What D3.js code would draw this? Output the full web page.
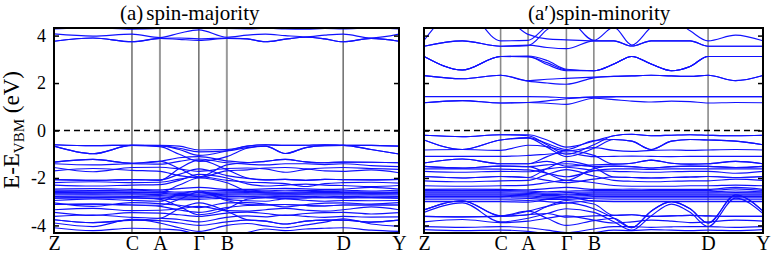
<!DOCTYPE html>
<html>
<head>
<meta charset="utf-8">
<script src="https://cdn.jsdelivr.net/npm/d3@7"></script>
<style>
  body { margin: 0; background: #fff; }
  svg { display: block; }
  svg text { font-family: "Liberation Serif", "DejaVu Serif", "Times New Roman", Times, serif; }
</style>
</head>
<body>
<svg id="chart" width="774" height="255"></svg>
<script>
// k-path sample positions (fraction of path length) and high-symmetry points
const kPath = [0, 0.113, 0.226, 0.307, 0.363, 0.420, 0.501, 0.56, 0.613, 0.67, 0.73, 0.785, 0.838, 0.919, 1];
const symLabels = ["Z", "C", "A", "\u0393", "B", "D", "Y"];
const symPos = [0, 0.226, 0.307, 0.420, 0.501, 0.838, 1];
const yTicks = [-4, -2, 0, 2, 4];

// spin-majority bands (eV), one value per kPath point
const majorityBands = [
  [4.28, 4.33, 4.27, 4.30, 4.35, 4.40, 4.30, 4.28, 4.31, 4.28, 4.27, 4.30, 4.28, 4.32, 4.28],
  [4.07, 3.98, 4.06, 3.92, 4.10, 4.24, 3.93, 4.02, 4.06, 4.00, 3.95, 4.02, 4.06, 3.90, 4.06],
  [3.76, 3.90, 3.74, 3.88, 3.84, 3.80, 3.88, 3.86, 3.74, 3.85, 3.93, 3.86, 3.74, 3.88, 3.76],
  [3.76, 3.90, 3.74, 3.88, 3.90, 3.86, 3.90, 3.86, 3.74, 3.85, 3.93, 3.86, 3.74, 3.88, 3.76],
  [-0.60, -0.64, -0.62, -0.62, -0.66, -0.82, -0.80, -0.66, -0.60, -0.63, -0.62, -0.60, -0.62, -0.63, -0.66],
  [-0.66, -0.98, -0.63, -0.65, -0.75, -0.90, -0.86, -0.72, -0.66, -0.97, -0.72, -0.64, -0.63, -0.80, -0.99],
  [-0.60, -0.64, -0.62, -0.64, -0.80, -1.05, -0.86, -0.66, -0.60, -0.63, -0.62, -0.60, -0.62, -0.63, -0.66],
  [-0.66, -0.98, -0.63, -0.68, -1.00, -1.30, -1.10, -0.75, -0.66, -0.97, -0.72, -0.64, -0.63, -0.80, -0.99],
  [-1.33, -1.22, -1.38, -1.30, -1.15, -1.10, -1.28, -1.35, -1.30, -1.22, -1.32, -1.36, -1.33, -1.34, -1.36],
  [-1.33, -1.22, -1.38, -1.30, -1.60, -1.95, -1.45, -1.36, -1.30, -1.22, -1.32, -1.36, -1.33, -1.34, -1.36],
  [-1.40, -1.45, -1.40, -1.42, -1.30, -1.20, -1.36, -1.42, -1.45, -1.40, -1.40, -1.44, -1.40, -1.48, -1.52],
  [-1.56, -1.74, -1.56, -1.55, -1.62, -1.72, -1.60, -1.58, -1.62, -1.76, -1.64, -1.58, -1.56, -1.60, -1.64],
  [-1.70, -1.60, -1.68, -1.72, -1.90, -1.98, -1.70, -1.66, -1.58, -1.56, -1.62, -1.70, -1.72, -1.66, -1.78],
  [-2.07, -2.10, -2.07, -2.08, -1.85, -1.62, -1.90, -2.02, -2.08, -2.06, -2.10, -2.06, -2.07, -2.08, -2.06],
  [-2.07, -2.10, -2.07, -2.10, -1.60, -1.25, -1.65, -2.00, -2.08, -2.06, -2.10, -2.06, -2.07, -2.08, -2.06],
  [-2.20, -2.16, -2.20, -2.18, -2.05, -1.95, -2.10, -2.18, -2.20, -2.24, -2.36, -2.24, -2.20, -2.18, -2.22],
  [-2.30, -2.34, -2.30, -2.28, -2.10, -1.85, -2.00, -2.25, -2.34, -2.30, -2.26, -2.30, -2.32, -2.36, -2.32],
  [-2.47, -2.45, -2.48, -2.50, -2.45, -2.40, -2.48, -2.48, -2.46, -2.44, -2.46, -2.48, -2.47, -2.40, -2.47],
  [-2.52, -2.53, -2.52, -2.55, -2.60, -2.55, -2.53, -2.52, -2.54, -2.52, -2.53, -2.52, -2.52, -2.55, -2.52],
  [-2.57, -2.58, -2.58, -2.60, -2.65, -2.62, -2.58, -2.57, -2.58, -2.59, -2.58, -2.57, -2.58, -2.60, -2.58],
  [-2.62, -2.63, -2.62, -2.64, -2.70, -2.68, -2.63, -2.62, -2.63, -2.64, -2.63, -2.62, -2.62, -2.64, -2.62],
  [-2.62, -2.63, -2.62, -2.60, -2.30, -2.00, -2.20, -2.55, -2.63, -2.64, -2.63, -2.62, -2.62, -2.64, -2.62],
  [-2.67, -2.68, -2.67, -2.70, -2.74, -2.73, -2.68, -2.67, -2.68, -2.68, -2.68, -2.67, -2.67, -2.68, -2.67],
  [-2.72, -2.72, -2.72, -2.74, -2.80, -2.78, -2.73, -2.72, -2.72, -2.73, -2.72, -2.72, -2.72, -2.72, -2.72],
  [-2.78, -2.77, -2.78, -2.80, -2.85, -2.84, -2.79, -2.78, -2.77, -2.78, -2.78, -2.77, -2.78, -2.77, -2.78],
  [-2.85, -2.83, -2.84, -2.86, -2.92, -2.90, -2.85, -2.84, -2.83, -2.85, -2.84, -2.83, -2.84, -2.83, -2.85],
  [-2.85, -2.83, -2.84, -2.90, -3.20, -3.55, -3.30, -2.90, -2.83, -2.85, -2.84, -2.83, -2.84, -2.83, -2.85],
  [-2.95, -2.88, -2.95, -2.98, -2.70, -2.55, -2.90, -2.96, -2.98, -2.88, -2.94, -2.98, -2.95, -2.96, -2.95],
  [-3.05, -3.20, -3.04, -3.08, -3.15, -3.25, -3.05, -3.04, -3.10, -3.22, -3.12, -3.06, -3.05, -3.10, -3.04],
  [-3.12, -3.10, -3.14, -3.20, -3.35, -3.45, -3.25, -3.16, -3.14, -3.12, -3.16, -3.18, -3.14, -3.14, -3.14],
  [-3.12, -3.10, -3.14, -3.15, -2.90, -2.60, -2.95, -3.12, -3.14, -3.12, -3.16, -3.18, -3.14, -3.14, -3.14],
  [-3.34, -3.28, -3.38, -3.36, -3.30, -3.20, -3.38, -3.40, -3.34, -3.28, -3.36, -3.40, -3.34, -3.22, -3.34],
  [-3.45, -3.58, -3.46, -3.48, -3.55, -3.62, -3.48, -3.44, -3.50, -3.58, -3.50, -3.46, -3.45, -3.52, -3.46],
  [-3.62, -3.56, -3.66, -3.70, -3.75, -3.85, -3.66, -3.60, -3.64, -3.56, -3.62, -3.66, -3.62, -3.65, -3.64],
  [-3.76, -3.88, -3.78, -3.80, -3.90, -4.00, -3.85, -3.78, -3.82, -3.94, -3.82, -3.78, -3.78, -3.86, -3.78],
  [-3.76, -3.88, -3.78, -3.70, -3.30, -3.05, -3.40, -3.76, -3.82, -3.94, -3.82, -3.78, -3.78, -3.86, -3.78],
  [-3.90, -4.05, -3.74, -3.90, -4.10, -4.25, -4.00, -3.92, -4.02, -4.10, -3.98, -3.86, -3.72, -3.94, -4.04],
  [-4.10, -4.22, -4.12, -4.15, -4.20, -4.40, -4.50, -4.30, -4.15, -4.22, -4.15, -4.12, -4.10, -4.20, -4.25]
];

// spin-minority bands (eV)
const minorityBands = [
  [3.80, 5.20, 3.78, 3.80, 4.40, 4.70, 3.80, 4.35, 3.60, 4.35, 4.70, 4.20, 3.78, 4.02, 3.78],
  [3.55, 3.78, 3.55, 3.60, 3.50, 3.45, 3.78, 3.78, 3.56, 3.78, 3.78, 3.78, 3.55, 3.55, 3.55],
  [3.55, 3.78, 3.55, 3.58, 4.25, 4.80, 4.80, 4.80, 4.80, 4.80, 4.80, 4.80, 4.80, 4.80, 4.80],
  [4.80, 4.80, 4.80, 4.05, 3.86, 3.82, 3.78, 3.78, 3.56, 3.78, 3.78, 3.78, 3.55, 3.55, 3.55],
  [3.12, 2.55, 3.12, 3.12, 2.78, 2.52, 2.52, 2.80, 3.12, 2.80, 2.52, 2.70, 3.12, 3.12, 3.12],
  [3.12, 2.55, 3.12, 3.10, 2.86, 2.55, 2.52, 2.80, 3.12, 2.80, 2.52, 2.70, 3.12, 3.12, 3.12],
  [3.12, 2.55, 3.12, 3.14, 2.95, 2.58, 2.52, 2.80, 3.12, 2.80, 2.52, 2.70, 3.12, 3.12, 3.12],
  [2.31, 2.18, 2.33, 2.10, 2.16, 2.20, 2.25, 2.28, 2.30, 2.33, 2.30, 2.28, 2.33, 2.10, 2.32],
  [2.31, 2.18, 2.33, 2.08, 2.00, 1.95, 2.22, 2.28, 2.30, 2.33, 2.30, 2.28, 2.33, 2.10, 2.32],
  [1.43, 1.43, 1.43, 1.43, 1.42, 1.38, 1.40, 1.42, 1.43, 1.43, 1.43, 1.43, 1.43, 1.43, 1.43],
  [1.17, 1.26, 1.16, 1.18, 1.25, 1.34, 1.42, 1.43, 1.43, 1.43, 1.43, 1.43, 1.43, 1.43, 1.43],
  [1.17, 1.26, 1.16, 1.18, 1.15, 1.10, 1.36, 1.30, 1.24, 1.20, 1.24, 1.22, 1.16, 1.18, 1.17],
  [-0.20, -0.26, -0.18, -0.18, -0.40, -0.70, -0.45, -0.22, -0.16, -0.22, -0.20, -0.18, -0.20, -0.22, -0.20],
  [-0.20, -0.26, -0.18, -0.22, -0.60, -1.00, -0.60, -0.22, -0.16, -0.22, -0.20, -0.18, -0.20, -0.22, -0.20],
  [-0.40, -0.80, -0.40, -0.30, -0.55, -0.80, -0.42, -0.38, -0.45, -0.80, -0.45, -0.38, -0.40, -0.45, -0.60],
  [-0.40, -0.80, -0.40, -0.32, -0.70, -1.10, -0.75, -0.38, -0.45, -0.80, -0.45, -0.38, -0.40, -0.45, -0.60],
  [-0.82, -0.80, -0.84, -0.62, -0.68, -0.86, -0.72, -0.84, -0.88, -0.84, -0.82, -0.84, -0.82, -0.80, -0.82],
  [-1.09, -1.09, -1.09, -1.05, -1.00, -0.95, -1.10, -1.09, -1.08, -1.09, -1.10, -1.09, -1.09, -1.09, -1.09],
  [-1.37, -1.20, -1.40, -1.40, -1.30, -1.50, -1.45, -1.42, -1.38, -1.25, -1.38, -1.42, -1.40, -1.30, -1.40],
  [-1.37, -1.20, -1.40, -1.40, -1.10, -0.85, -1.05, -1.42, -1.38, -1.25, -1.38, -1.42, -1.40, -1.30, -1.40],
  [-1.51, -1.58, -1.50, -1.52, -1.45, -1.40, -1.52, -1.50, -1.52, -1.58, -1.52, -1.50, -1.51, -1.56, -1.51],
  [-1.51, -1.58, -1.50, -1.52, -1.80, -2.10, -1.60, -1.50, -1.52, -1.58, -1.52, -1.50, -1.51, -1.56, -1.51],
  [-1.62, -1.62, -1.63, -1.66, -1.80, -1.95, -1.70, -1.62, -1.62, -1.64, -1.62, -1.62, -1.62, -1.62, -1.62],
  [-1.72, -1.76, -1.72, -1.74, -1.62, -1.55, -1.68, -1.72, -1.74, -1.76, -1.74, -1.72, -1.72, -1.80, -1.72],
  [-1.94, -2.00, -1.94, -1.98, -2.10, -2.20, -2.05, -1.96, -1.98, -2.00, -1.98, -1.96, -1.94, -1.98, -1.94],
  [-1.94, -2.00, -1.94, -1.98, -1.60, -1.30, -1.55, -1.96, -1.98, -2.00, -1.98, -1.96, -1.94, -1.98, -1.94],
  [-2.12, -2.16, -2.12, -2.10, -1.85, -1.65, -1.92, -2.10, -2.14, -2.16, -2.14, -2.12, -2.12, -2.05, -2.10],
  [-2.33, -2.35, -2.33, -2.30, -2.20, -2.10, -2.20, -2.32, -2.35, -2.35, -2.35, -2.33, -2.33, -2.30, -2.33],
  [-2.48, -2.47, -2.48, -2.50, -2.45, -2.40, -2.48, -2.48, -2.47, -2.48, -2.48, -2.48, -2.48, -2.40, -2.48],
  [-2.53, -2.53, -2.53, -2.55, -2.58, -2.56, -2.53, -2.53, -2.53, -2.53, -2.53, -2.53, -2.53, -2.46, -2.53],
  [-2.58, -2.58, -2.58, -2.60, -2.64, -2.62, -2.58, -2.58, -2.58, -2.58, -2.58, -2.58, -2.58, -2.55, -2.58],
  [-2.63, -2.63, -2.63, -2.65, -2.70, -2.68, -2.63, -2.63, -2.63, -2.63, -2.63, -2.63, -2.63, -2.62, -2.63],
  [-2.68, -2.68, -2.68, -2.70, -2.74, -2.72, -2.68, -2.68, -2.68, -2.68, -2.68, -2.68, -2.68, -2.68, -2.68],
  [-2.73, -2.73, -2.73, -2.75, -2.80, -2.78, -2.73, -2.73, -2.73, -2.73, -2.73, -2.73, -2.73, -2.73, -2.73],
  [-2.78, -2.78, -2.78, -2.80, -2.85, -2.84, -2.79, -2.78, -2.78, -2.78, -2.78, -2.78, -2.78, -2.78, -2.78],
  [-2.84, -2.84, -2.84, -2.86, -2.90, -2.90, -2.85, -2.84, -2.84, -2.84, -2.84, -2.84, -2.84, -2.84, -2.84],
  [-2.92, -2.92, -2.92, -2.95, -3.00, -3.05, -2.94, -2.92, -2.92, -2.92, -2.92, -2.92, -2.92, -2.92, -2.92],
  [-3.00, -3.00, -3.00, -3.02, -2.90, -2.80, -2.98, -3.00, -3.00, -3.00, -3.00, -3.00, -3.00, -3.00, -3.00],
  [-3.35, -2.96, -3.60, -3.40, -3.20, -3.05, -3.30, -3.70, -4.10, -3.40, -3.00, -3.30, -3.90, -2.72, -3.40],
  [-3.35, -2.96, -3.60, -3.40, -3.70, -4.00, -3.80, -3.70, -4.10, -3.40, -3.00, -3.30, -3.90, -2.72, -3.40],
  [-3.45, -3.05, -3.85, -3.70, -3.50, -3.30, -3.45, -3.85, -4.20, -3.60, -3.10, -3.45, -4.05, -2.85, -3.50],
  [-3.62, -3.64, -3.62, -3.55, -3.50, -3.65, -3.60, -3.58, -3.55, -3.62, -3.60, -3.58, -3.60, -3.62, -3.62],
  [-3.62, -3.64, -3.62, -3.55, -3.20, -2.95, -3.10, -3.58, -3.55, -3.62, -3.60, -3.58, -3.60, -3.62, -3.62],
  [-3.85, -3.75, -3.88, -3.82, -3.70, -3.60, -3.78, -3.90, -3.85, -3.78, -3.82, -3.88, -3.85, -3.78, -3.82],
  [-4.05, -4.08, -4.05, -4.10, -4.20, -4.30, -4.15, -4.05, -4.05, -4.08, -4.06, -4.05, -4.05, -4.08, -4.05],
  [-4.18, -4.22, -4.20, -4.25, -4.35, -4.40, -4.30, -4.20, -4.22, -4.18, -4.20, -4.22, -4.20, -4.22, -4.18]
];

const svg = d3.select("#chart");
const plotTop = 28, plotBottom = 233;

const y = d3.scaleLinear().domain([-4.32, 4.32]).range([plotBottom, plotTop]);

function drawPanel(id, left, right, bands, lineStyle, showTickLabels) {
  const x = d3.scaleLinear().domain([0, 1]).range([left, right]);
  const g = svg.append("g");

  g.append("clipPath").attr("id", "clip-" + id)
    .append("rect")
    .attr("x", left).attr("y", plotTop)
    .attr("width", right - left).attr("height", plotBottom - plotTop);

  // high-symmetry k lines
  g.selectAll("line.sym")
    .data(symPos.slice(1, -1))
    .join("line")
    .attr("class", "sym")
    .attr("x1", d => x(d)).attr("x2", d => x(d))
    .attr("y1", plotTop).attr("y2", plotBottom)
    .attr("stroke", (d, i) => lineStyle[i].color)
    .attr("stroke-width", (d, i) => lineStyle[i].width);

  // VBM reference
  g.append("line")
    .attr("x1", left).attr("x2", right)
    .attr("y1", y(0)).attr("y2", y(0))
    .attr("stroke", "#000")
    .attr("stroke-width", 1.3)
    .attr("stroke-dasharray", "6,4");

  const line = d3.line()
    .x((d, i) => x(kPath[i]))
    .y(d => y(d))
    .curve(d3.curveMonotoneX);

  g.append("g")
    .attr("clip-path", "url(#clip-" + id + ")")
    .selectAll("path")
    .data(bands)
    .join("path")
    .attr("d", line)
    .attr("fill", "none")
    .attr("stroke", "#1010ff")
    .attr("stroke-width", 1.15);

  // inward ticks on both sides
  const leftAxis = g.append("g")
    .attr("transform", `translate(${left},0)`)
    .call(d3.axisLeft(y).tickValues(yTicks).tickSize(-5).tickPadding(8)
      .tickFormat(showTickLabels ? d => d : ""));
  leftAxis.select(".domain").remove();
  leftAxis.selectAll("line").attr("stroke-width", 1.5);
  leftAxis.selectAll("text").attr("font-size", 18).attr("fill", "#000");

  const rightAxis = g.append("g")
    .attr("transform", `translate(${right},0)`)
    .call(d3.axisRight(y).tickValues(yTicks).tickSize(-5).tickFormat(""));
  rightAxis.select(".domain").remove();
  rightAxis.selectAll("line").attr("stroke-width", 1.5);

  // k-point labels
  const xAxis = g.append("g")
    .attr("transform", `translate(0,${plotBottom})`)
    .call(d3.axisBottom(x).tickValues(symPos).tickSize(0).tickPadding(3)
      .tickFormat((d, i) => symLabels[i]));
  xAxis.select(".domain").remove();
  xAxis.selectAll("text").attr("font-size", 20).attr("fill", "#000");

  // frame
  g.append("rect")
    .attr("x", left).attr("y", plotTop)
    .attr("width", right - left).attr("height", plotBottom - plotTop)
    .attr("fill", "none")
    .attr("stroke", "#000")
    .attr("stroke-width", 2);
}

const dark = { color: "#222", width: 1 };
const grey = { color: "#999", width: 2 };
const greyR = { color: "#8a8a8a", width: 1.6 };

drawPanel("maj", 54, 399, majorityBands, [dark, grey, dark, grey, dark], true);
drawPanel("min", 424, 763, minorityBands, [greyR, greyR, greyR, greyR, greyR], false);

// titles
const t1 = svg.append("text")
  .attr("x", 120).attr("y", 20)
  .attr("font-size", 21);
t1.append("tspan").text("(a)");
t1.append("tspan").attr("dx", 3).text("spin-majority");

svg.append("text")
  .attr("x", 528).attr("y", 20)
  .attr("font-size", 21)
  .text("(a\u2032)spin-minority");

// y-axis title
const yl = svg.append("text")
  .attr("transform", "translate(19,130) rotate(-90)")
  .attr("text-anchor", "middle")
  .attr("font-size", 23);
yl.append("tspan").text("E-E");
yl.append("tspan").attr("font-size", 15).attr("dy", 5).text("VBM");
yl.append("tspan").attr("dy", -5).text(" (eV)");
</script>
</body>
</html>
